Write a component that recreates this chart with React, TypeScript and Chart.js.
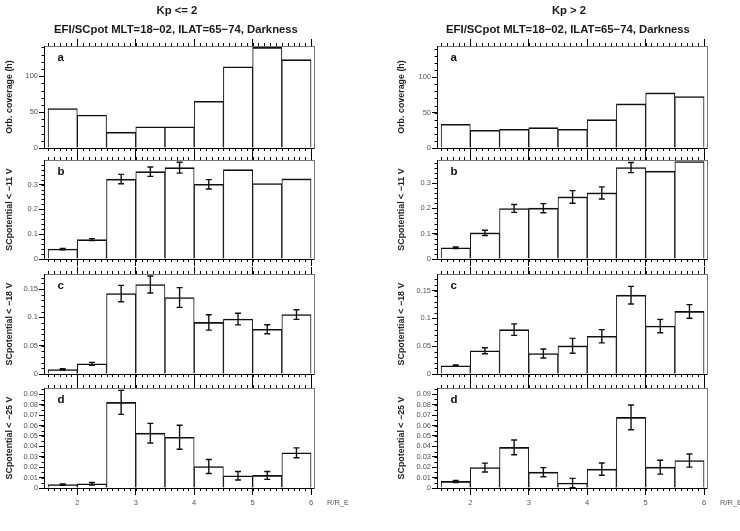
import React, { useEffect, useRef } from "react";
import { Chart, registerables } from "chart.js";

Chart.register(...registerables);

// ---------- data ----------
const binCenters = [1.75, 2.25, 2.75, 3.25, 3.75, 4.25, 4.75, 5.25, 5.75];
const xMajorTicks = [2, 3, 4, 5, 6];

const columnTitles = ["Kp <= 2", "Kp > 2"];
const subTitle = "EFI/SCpot MLT=18\u221202, ILAT=65\u221274, Darkness";
const xAxisLabel = "R/R_E";

const yTitles = ["Orb. coverage (h)", "SCpotential < \u221211 V", "SCpotential < \u221218 V", "SCpotential < \u221225 V"];
const panelLetters = ["a", "b", "c", "d"];

const yTicksCoverage = [0, 50, 100];
const yTicks11 = [0, 0.1, 0.2, 0.3];
const yTicks18 = [0, 0.05, 0.1, 0.15];
const yTicks25 = [0, 0.01, 0.02, 0.03, 0.04, 0.05, 0.06, 0.07, 0.08, 0.09];

// Kp <= 2
const coverageLow = [55, 46, 22, 29.5, 29.5, 65, 113, 140, 123];
const sc11Low = [0.04, 0.078, 0.322, 0.352, 0.368, 0.301, 0.36, 0.304, 0.323];
const sc11LowErr = [0.003, 0.004, 0.019, 0.019, 0.022, 0.019, null, null, null];
const sc18Low = [0.008, 0.018, 0.142, 0.158, 0.135, 0.091, 0.097, 0.079, 0.105];
const sc18LowErr = [0.0012, 0.0025, 0.0145, 0.015, 0.0174, 0.0135, 0.0103, 0.008, 0.0085];
const sc25Low = [0.0032, 0.0041, 0.0823, 0.0527, 0.0488, 0.0207, 0.0118, 0.0121, 0.0338];
const sc25LowErr = [0.0006, 0.0012, 0.0115, 0.0094, 0.0115, 0.0067, 0.0041, 0.0038, 0.0048];

// Kp > 2
const coverageHigh = [33.5, 25, 26.4, 28.7, 26.4, 40, 62.2, 77.8, 72.6];
const sc11High = [0.0443, 0.103, 0.1996, 0.2009, 0.2452, 0.261, 0.3613, 0.347, 0.385];
const sc11HighErr = [0.003, 0.0104, 0.0156, 0.018, 0.025, 0.024, 0.02, null, null];
const sc18High = [0.0149, 0.0417, 0.0798, 0.0369, 0.0506, 0.0679, 0.1417, 0.0863, 0.1125];
const sc18HighErr = [0.0012, 0.0054, 0.0104, 0.008, 0.0134, 0.0119, 0.0158, 0.012, 0.0122];
const sc25High = [0.0063, 0.0196, 0.039, 0.0152, 0.0048, 0.0181, 0.0678, 0.02, 0.0263];
const sc25HighErr = [0.001, 0.0043, 0.0071, 0.0044, 0.0044, 0.0059, 0.0119, 0.0067, 0.0063];

// axis ranges
const X_MIN = 1.43;
const X_MAX = 6.05;
const yMaxLow = [142, 0.399, 0.1765, 0.0961];
const yMaxHigh = [144, 0.391, 0.1798, 0.096];
const yMinorSteps = [10, 0.02, 0.01, 0.005];

// ---------- layout ----------
const W = 740;
const H = 531;
const FONT = "'Liberation Sans', Arial, Helvetica, sans-serif";
const COLS = [
  { L: 44, R: 314, titleX: 9.5, headX: 177, rreX: 327 },
  { L: 437, R: 707, titleX: 402, headX: 569, rreX: 720 },
];
const ROWS = [
  { T: 46, B: 148 },
  { T: 160, B: 259 },
  { T: 274, B: 374 },
  { T: 388, B: 488 },
];
const Y_TITLE_SIZE = 8.9;
const TICK_SIZE = 7.5;

type PanelDef = {
  col: number;
  row: number;
  values: number[];
  errors: (number | null)[] | null;
  ymax: number;
  yTicks: number[];
};

const panels: PanelDef[] = [
  { col: 0, row: 0, values: coverageLow, errors: null, ymax: yMaxLow[0], yTicks: yTicksCoverage },
  { col: 0, row: 1, values: sc11Low, errors: sc11LowErr, ymax: yMaxLow[1], yTicks: yTicks11 },
  { col: 0, row: 2, values: sc18Low, errors: sc18LowErr, ymax: yMaxLow[2], yTicks: yTicks18 },
  { col: 0, row: 3, values: sc25Low, errors: sc25LowErr, ymax: yMaxLow[3], yTicks: yTicks25 },
  { col: 1, row: 0, values: coverageHigh, errors: null, ymax: yMaxHigh[0], yTicks: yTicksCoverage },
  { col: 1, row: 1, values: sc11High, errors: sc11HighErr, ymax: yMaxHigh[1], yTicks: yTicks11 },
  { col: 1, row: 2, values: sc18High, errors: sc18HighErr, ymax: yMaxHigh[2], yTicks: yTicks18 },
  { col: 1, row: 3, values: sc25High, errors: sc25HighErr, ymax: yMaxHigh[3], yTicks: yTicks25 },
];

function buildChart(canvas: HTMLCanvasElement, p: PanelDef) {
  const col = COLS[p.col];
  const row = ROWS[p.row];
  const isBottom = p.row === 3;
  const lh = Y_TITLE_SIZE * 1.2;
  const Wy = col.L - (col.titleX - lh / 2);
  const Ht = 10;
  const Hx = isBottom ? 30 : 10;
  const Wr = 0;
  const padding = {
    left: col.L - Wy,
    top: row.T - Ht,
    right: W - col.R - Wr,
    bottom: H - row.B - Hx,
  };
  const minorStep = yMinorSteps[p.row];

  const extras = {
    id: "extras" + p.col + p.row,
    afterDatasetsDraw(chart: any) {
      const { ctx, scales } = chart;
      const xs = scales.x;
      const ys = scales.y;
      if (p.errors) {
        ctx.save();
        ctx.strokeStyle = "#111";
        ctx.lineWidth = 1.4;
        ctx.beginPath();
        p.errors.forEach((e, i) => {
          if (e == null) return;
          const x = xs.getPixelForValue(binCenters[i]);
          const y1 = ys.getPixelForValue(p.values[i] - e);
          const y2 = ys.getPixelForValue(p.values[i] + e);
          ctx.moveTo(x, y1);
          ctx.lineTo(x, y2);
          ctx.moveTo(x - 3, y1);
          ctx.lineTo(x + 3, y1);
          ctx.moveTo(x - 3, y2);
          ctx.lineTo(x + 3, y2);
        });
        ctx.stroke();
        ctx.restore();
      }
    },
    afterDraw(chart: any) {
      const { ctx, chartArea: a, scales } = chart;
      const xs = scales.x;
      const ys = scales.y;
      ctx.save();
      ctx.strokeStyle = "#000";
      ctx.lineWidth = 1;
      ctx.beginPath();
      for (let k = 15; k <= 60; k++) {
        const px = Math.round(xs.getPixelForValue(k / 10)) + 0.5;
        ctx.moveTo(px, a.top);
        ctx.lineTo(px, a.top - 3);
        ctx.moveTo(px, a.bottom);
        ctx.lineTo(px, a.bottom + 3);
      }
      for (let k = 0; k * minorStep <= p.ymax + 1e-9; k++) {
        const py = Math.round(ys.getPixelForValue(k * minorStep)) + 0.5;
        ctx.moveTo(a.left, py);
        ctx.lineTo(a.left - 2.5, py);
      }
      ctx.stroke();
      ctx.fillStyle = "#111";
      ctx.font = `bold 11.5px ${FONT}`;
      ctx.textBaseline = "alphabetic";
      ctx.textAlign = "left";
      ctx.fillText(panelLetters[p.row], a.left + 13.5, a.top + 15);
      ctx.restore();
    },
  };

  const setX = (s: any) => {
    s.ticks = xMajorTicks.map((v) => ({ value: v }));
  };
  const fmt = (v: any) => String(+Number(v).toFixed(4));

  return new Chart(canvas, {
    type: "bar",
    data: {
      datasets: [
        {
          data: binCenters.map((c, i) => ({ x: c, y: p.values[i] })),
          backgroundColor: "#ffffff",
          borderColor: "#111111",
          borderWidth: { top: 1.6, left: 1, right: 1, bottom: 0 },
          borderSkipped: false,
          barPercentage: 1,
          categoryPercentage: 1,
        } as any,
      ],
    },
    options: {
      responsive: false,
      maintainAspectRatio: false,
      devicePixelRatio: 1,
      animation: false,
      events: [],
      layout: { padding },
      plugins: {
        legend: { display: false },
        tooltip: { enabled: false },
        title: { display: false },
      },
      scales: {
        x: {
          type: "linear",
          position: "bottom",
          offset: false,
          min: X_MIN,
          max: X_MAX,
          afterBuildTicks: setX,
          afterFit: (s: any) => {
            s.height = Hx;
          },
          ticks: {
            display: isBottom,
            color: "#555",
            font: { size: TICK_SIZE, family: FONT },
            padding: 3.5,
            maxRotation: 0,
            autoSkip: false,
            callback: fmt,
          },
          grid: { display: true, offset: false, drawOnChartArea: false, drawTicks: true, tickLength: 7, color: "#000", lineWidth: 1 },
          border: { display: true, color: "#000", width: 1 },
        },
        xTop: {
          type: "linear",
          position: "top",
          offset: false,
          min: X_MIN,
          max: X_MAX,
          afterBuildTicks: setX,
          afterFit: (s: any) => {
            s.height = Ht;
          },
          ticks: { display: false },
          grid: { display: true, offset: false, drawOnChartArea: false, drawTicks: true, tickLength: 7, color: "#000", lineWidth: 1 },
          border: { display: true, color: "#777", width: 1 },
        },
        y: {
          type: "linear",
          position: "left",
          min: 0,
          max: p.ymax,
          afterBuildTicks: (s: any) => {
            s.ticks = p.yTicks.map((v) => ({ value: v }));
          },
          afterFit: (s: any) => {
            s.width = Wy;
          },
          ticks: {
            color: "#555",
            font: { size: TICK_SIZE, family: FONT },
            padding: 1,
            autoSkip: false,
            callback: fmt,
          },
          grid: { display: true, drawOnChartArea: false, drawTicks: true, tickLength: 5, color: "#000", lineWidth: 1 },
          border: { display: true, color: "#000", width: 1 },
          title: {
            display: true,
            text: yTitles[p.row],
            color: "#222",
            font: { size: Y_TITLE_SIZE, family: FONT, weight: "bold" },
            padding: { top: 0, bottom: 0 },
          },
        },
        yRight: {
          type: "linear",
          position: "right",
          min: 0,
          max: p.ymax,
          afterFit: (s: any) => {
            s.width = Wr;
          },
          ticks: { display: false },
          grid: { display: false },
          border: { display: true, color: "#777", width: 1 },
        },
      },
    } as any,
    plugins: [extras],
  });
}

function Panel({ p }: { p: PanelDef }) {
  const ref = useRef<HTMLCanvasElement | null>(null);
  useEffect(() => {
    if (!ref.current) return;
    const chart = buildChart(ref.current, p);
    return () => chart.destroy();
  }, [p]);
  return (
    <canvas
      ref={ref}
      width={W}
      height={H}
      style={{ position: "absolute", left: 0, top: 0, width: W, height: H }}
    />
  );
}

export default function App() {
  const titleStyle = (cx: number, cy: number): React.CSSProperties => ({
    position: "absolute",
    left: cx - 200,
    width: 400,
    top: cy - 8,
    height: 16,
    lineHeight: "16px",
    textAlign: "center",
    fontFamily: FONT,
    fontWeight: "bold",
    fontSize: 11.3,
    color: "#1a1a1a",
    whiteSpace: "nowrap",
  });
  return (
    <div
      style={{
        position: "fixed",
        left: 0,
        top: 0,
        width: W,
        height: H,
        background: "#ffffff",
        overflow: "hidden",
      }}
    >
      {panels.map((p, i) => (
        <Panel key={i} p={p} />
      ))}
      {COLS.map((c, i) => (
        <React.Fragment key={"t" + i}>
          <div style={titleStyle(c.headX, 10)}>{columnTitles[i]}</div>
          <div style={titleStyle(c.headX - 1, 28.5)}>{subTitle}</div>
          <div
            style={{
              position: "absolute",
              left: c.rreX,
              top: 503 - 5,
              height: 10,
              lineHeight: "10px",
              fontFamily: FONT,
              fontSize: TICK_SIZE,
              color: "#555",
              whiteSpace: "nowrap",
            }}
          >
            {xAxisLabel}
          </div>
        </React.Fragment>
      ))}
    </div>
  );
}
